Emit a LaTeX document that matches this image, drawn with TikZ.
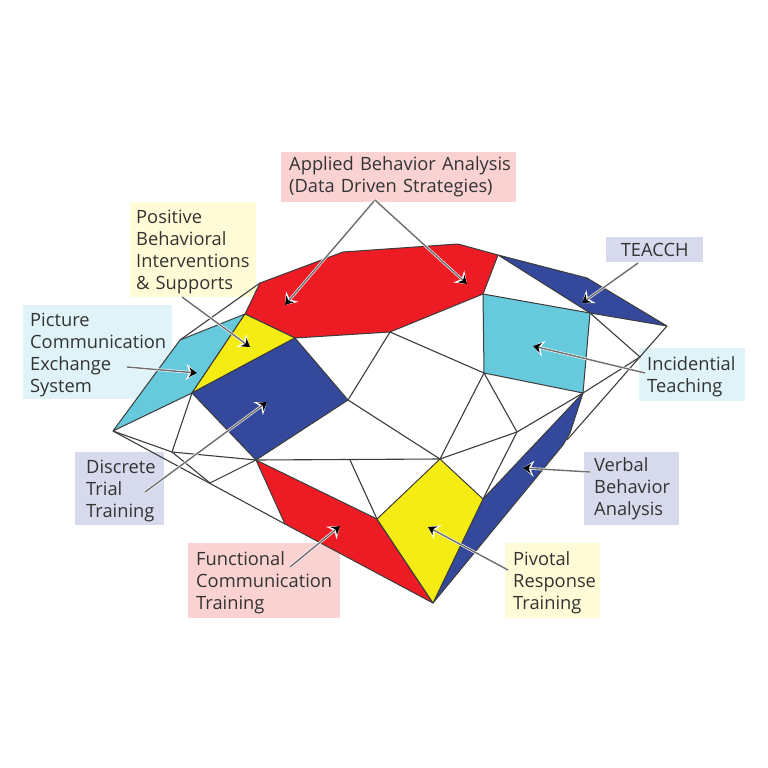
\documentclass[tikz,border=0pt]{standalone}
\usepackage{fontspec}
\setmainfont{Open Sans}
\usetikzlibrary{arrows.meta}
\definecolor{cRed}{HTML}{ED1C24}
\definecolor{cNavy}{HTML}{34499B}
\definecolor{cCyan}{HTML}{66CADC}
\definecolor{cYel}{HTML}{F5EC14}
\definecolor{bPink}{HTML}{FAD2D2}
\definecolor{bYel}{HTML}{FFFBD6}
\definecolor{bBlue}{HTML}{D6DAEC}
\definecolor{bCyan}{HTML}{DFF3F8}
\definecolor{cText}{HTML}{333333}
\definecolor{cLine}{HTML}{3C3C3C}
\definecolor{cGrey}{HTML}{6E6E6E}
\tikzset{
  facet/.style={draw=cLine,line width=1pt,line join=round},
  web/.style={draw=cLine,line width=1.1pt},
  tagbase/.style={anchor=north west,inner xsep=3pt,inner ysep=0pt,align=left,text=cText,
     font=\fontsize{18.3}{22}\selectfont},
  tag/.style={tagbase,execute at begin node={\rule{0pt}{18pt}}},
  halo/.style={draw=white,line width=2.6pt,-{Stealth[white,length=11pt,width=16pt]}},
  lead/.style={draw=cGrey,line width=1.4pt,-{Stealth[black,length=8pt,width=10pt]}},
}
\newcommand{\leader}[2]{\path[halo] (#1) -- (#2); \path[lead] (#1) -- (#2);}
\newcommand{\ind}[1]{\hspace*{#1pt}}
\begin{document}
\begin{tikzpicture}[x=1pt,y=-1pt]
\useasboundingbox (0,0) rectangle (768,768);
\fill[white] (0,0) rectangle (768,768);
% labels
\node[tagbase,fill=bPink,minimum width=235pt,minimum height=50pt,text width=229pt] (aba) at (281,152)
  {\ind{5}Applied Behavior Analysis\\\ind{5}(Data Driven Strategies)};
\node[tag,fill=bYel,minimum width=126pt,minimum height=95pt,text width=120pt] (pbis) at (130,202)
  {\ind{3}Positive\\\ind{3}Behavioral\\\ind{3}Interventions\\\ind{3}\& Supports};
\node[tagbase,fill=bBlue,minimum width=97pt,minimum height=25pt,text width=91pt,align=center] (teacch) at (606,237)
  {TEACCH};
\node[tag,fill=bCyan,minimum width=149pt,minimum height=94pt,text width=143pt] (pecs) at (23,305)
  {\ind{4}Picture\\\ind{4}Communication\\\ind{4}Exchange\\\ind{4}System};
\node[tag,fill=bCyan,minimum width=106pt,minimum height=53pt,text width=100pt] (inc) at (639,348)
  {\ind{5}Incidential\\\ind{5}Teaching};
\node[tag,fill=bBlue,minimum width=89pt,minimum height=73pt,text width=83pt] (dtt) at (75,452)
  {\ind{8}Discrete\\\ind{8}Trial\\\ind{8}Training};
\node[tagbase,fill=bBlue,minimum width=95pt,minimum height=73pt,text width=89pt] (vba) at (584,452)
  {\ind{7}Verbal\\\ind{7}Behavior\\\ind{7}Analysis};
\node[tag,fill=bPink,minimum width=152pt,minimum height=75pt,text width=146pt] (fct) at (188,543)
  {\ind{5}Functional\\\ind{5}Communication\\\ind{5}Training};
\node[tag,fill=bYel,minimum width=95pt,minimum height=75pt,text width=89pt] (prt) at (505,543)
  {\ind{5}Pivotal\\\ind{5}Response\\\ind{5}Training};
% facet vertices
\coordinate (L) at (113,431);
\coordinate (C1) at (180,340);
\coordinate (C2) at (245,314);
\coordinate (C3) at (192,393);
\coordinate (T0) at (260,283);
\coordinate (T1) at (343,252);
\coordinate (T2) at (458,244);
\coordinate (T3) at (498,255);
\coordinate (T4) at (483,294);
\coordinate (T5) at (390,332);
\coordinate (Y1) at (295,338);
\coordinate (B1) at (348,400);
\coordinate (B2) at (256,460);
\coordinate (N1) at (587,278);
\coordinate (R) at (667,326);
\coordinate (N2) at (590,313);
\coordinate (Q1) at (583,393);
\coordinate (Q2) at (484,373);
\coordinate (V1) at (570,433);
\coordinate (V2) at (563,445);
\coordinate (Bot) at (433,603);
\coordinate (V3) at (483,499);
\coordinate (P1) at (440,459);
\coordinate (P2) at (377,519);
\coordinate (F1) at (285,524);
\coordinate (M1) at (517,432);
\coordinate (M2) at (172,452);
\coordinate (M3) at (210,483);
\coordinate (M4) at (350,460);
\coordinate (M5) at (640,357);
\coordinate (M6) at (567,440);
% web lines
\draw[web] (C1) -- (T0);
\draw[web] (L) -- (F1);
\draw[web] (L) -- (M2) -- (B2) -- (P1);
\draw[web] (C3) -- (M2) -- (M3) -- (B2);
\draw[web] (B1) -- (T5) -- (Q2);
\draw[web] (B1) -- (P1) -- (Q2) -- (M1) -- (V3);
\draw[web] (P1) -- (M1) -- (Q1) -- (M5) -- (N2);
\draw[web] (M4) -- (P2);
\draw[web] (R) -- (M6);
% coloured facets
\draw[facet,fill=cCyan] (L) -- (C1) -- (C2) -- (C3) -- cycle;
\draw[facet,fill=cRed] (C2) -- (T0) -- (T1) -- (T2) -- (T3) -- (T4) -- (T5) -- (Y1) -- cycle;
\draw[facet,fill=cYel] (C2) -- (Y1) -- (C3) -- cycle;
\draw[facet,fill=cNavy] (C3) -- (Y1) -- (B1) -- (B2) -- cycle;
\draw[facet,fill=cNavy] (T3) -- (N1) -- (R) -- (N2) -- cycle;
\draw[facet,fill=cCyan] (T4) -- (N2) -- (Q1) -- (Q2) -- cycle;
\draw[facet,fill=cNavy] (Q1) -- (V1) -- (V2) -- (Bot) -- (V3) -- cycle;
\draw[facet,fill=cRed] (B2) -- (P2) -- (Bot) -- (F1) -- cycle;
\draw[facet,fill=cYel] (P1) -- (V3) -- (Bot) -- (P2) -- cycle;
% leader anchors
\coordinate (aAba) at (375,200);
\coordinate (tAba1) at (285,305);
\coordinate (tAba2) at (467,284);
\coordinate (aPbis) at (182,297);
\coordinate (tPbis) at (250,347);
\coordinate (aPecs) at (127,367);
\coordinate (tPecs) at (197,373);
\coordinate (aDtt) at (145,492);
\coordinate (tDtt) at (267,402);
\coordinate (aFct) at (290,567);
\coordinate (tFct) at (340,526);
\coordinate (aPrt) at (508,570);
\coordinate (tPrt) at (428,527);
\coordinate (aVba) at (590,472);
\coordinate (tVba) at (523,468);
\coordinate (aInc) at (645,373);
\coordinate (tInc) at (533,346);
\coordinate (aTea) at (638,263);
\coordinate (tTea) at (582,303);
% leaders
\leader{aAba}{tAba1}
\leader{aAba}{tAba2}
\leader{aPbis}{tPbis}
\leader{aPecs}{tPecs}
\leader{aDtt}{tDtt}
\leader{aFct}{tFct}
\leader{aPrt}{tPrt}
\leader{aVba}{tVba}
\leader{aInc}{tInc}
\leader{aTea}{tTea}
\end{tikzpicture}
\end{document}
